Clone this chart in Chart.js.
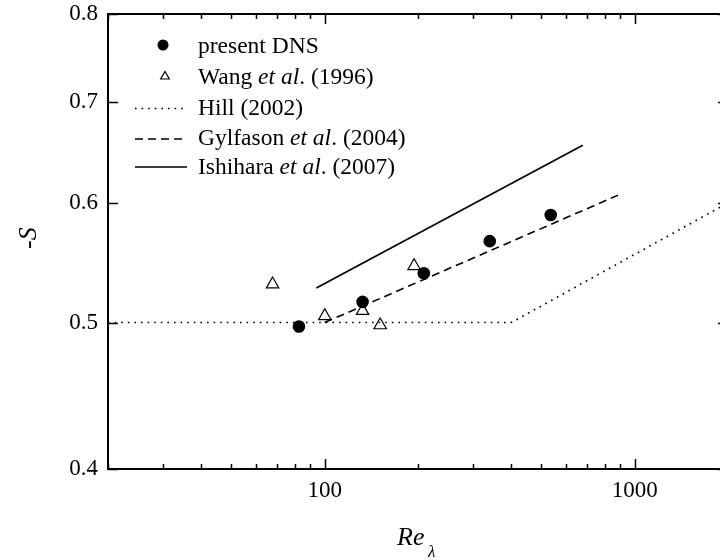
<!DOCTYPE html>
<html>
<head>
<meta charset="utf-8">
<script src="https://cdn.jsdelivr.net/npm/chart.js@4.4.1/dist/chart.umd.min.js"></script>
<style>
  html, body { margin: 0; padding: 0; background: #fff; overflow: hidden; }
  #wrap { width: 740px; height: 560px; }
</style>
</head>
<body>
<div id="wrap"><canvas id="skewChart" width="740" height="560"></canvas></div>
<script>
// present DNS
const dnsRe = [82.6, 132.5, 208.8, 340.8, 536];
const dnsS = [0.497, 0.516, 0.539, 0.566, 0.589];
// Wang et al. (1996)
const wangRe = [67.9, 100.1, 132.5, 151, 194.3];
const wangS = [0.530, 0.505, 0.509, 0.498, 0.545];
// Hill (2002)
const hillRe = [20, 400, 2000];
const hillS = [0.5, 0.5, 0.6];
// Gylfason et al. (2004)
const gylRe = [100, 900];
const gylS = [0.5, 0.608];
// Ishihara et al. (2007)
const ishRe = [94, 680];
const ishS = [0.527, 0.655];

const xTicks = [20, 30, 40, 50, 60, 70, 80, 90, 100, 200, 300, 400, 500, 600, 700, 800, 900, 1000, 2000];
const xLabels = { 100: '100', 1000: '1000' };
const yTicks = [0.4, 0.5, 0.6, 0.7, 0.8];
const yLabels = ['0.4', '0.5', '0.6', '0.7', '0.8'];

// legend text: pieces of [text, italic]
const legendText = [
    [['present DNS', false]],
    [['Wang ', false], ['et al', true], ['. (1996)', false]],
    [['Hill (2002)', false]],
    [['Gylfason ', false], ['et al', true], ['. (2004)', false]],
    [['Ishihara ', false], ['et al', true], ['. (2007)', false]]
];

const serif = "'Liberation Serif', 'DejaVu Serif', serif";

function pts(xs, ys) {
    return xs.map((x, i) => ({ x: x, y: ys[i] }));
}

const datasets = [
    {
        label: 'present DNS', type: 'scatter', data: pts(dnsRe, dnsS),
        pointStyle: 'circle', pointRadius: 6.3, backgroundColor: '#000', borderColor: '#000', borderWidth: 0
    },
    {
        label: 'Wang et al. (1996)', type: 'scatter', data: pts(wangRe, wangS),
        pointStyle: 'triangle', pointRadius: 7.2, backgroundColor: 'rgba(0,0,0,0)', borderColor: '#000', borderWidth: 1.2
    },
    {
        label: 'Hill (2002)', type: 'line', data: pts(hillRe, hillS),
        borderColor: '#000', borderWidth: 1.7, borderDash: [1.6, 5], pointRadius: 0, tension: 0, fill: false
    },
    {
        label: 'Gylfason et al. (2004)', type: 'line', data: pts(gylRe, gylS),
        borderColor: '#000', borderWidth: 1.6, borderDash: [8, 5], pointRadius: 0, tension: 0, fill: false
    },
    {
        label: 'Ishihara et al. (2007)', type: 'line', data: pts(ishRe, ishS),
        borderColor: '#000', borderWidth: 1.7, pointRadius: 0, tension: 0, fill: false
    }
];

function drawPieces(ctx, pieces, x, y, size) {
    pieces.forEach(([t, it]) => {
        ctx.font = (it ? 'italic ' : '') + size + 'px ' + serif;
        ctx.fillText(t, x, y);
        x += ctx.measureText(t).width;
    });
}

const framePlugin = {
    id: 'framePlugin',
    afterDatasetsDraw(chart) {
        const ctx = chart.ctx;
        const xs = chart.scales.x, ys = chart.scales.y;
        const a = chart.chartArea;
        ctx.save();
        ctx.strokeStyle = '#000';
        ctx.fillStyle = '#000';

        // frame
        ctx.lineWidth = 2;
        ctx.strokeRect(a.left, a.top, a.right - a.left, a.bottom - a.top);

        // x ticks (inward, top and bottom)
        ctx.lineWidth = 1.5;
        xTicks.forEach(v => {
            const px = Math.round(xs.getPixelForValue(v)) + 0.5;
            const len = xLabels[v] ? 10 : 5;
            ctx.beginPath();
            ctx.moveTo(px, a.bottom); ctx.lineTo(px, a.bottom - len);
            ctx.moveTo(px, a.top); ctx.lineTo(px, a.top + len);
            ctx.stroke();
        });
        // y ticks (inward, left and right)
        yTicks.forEach(v => {
            const py = Math.round(ys.getPixelForValue(v)) + 0.5;
            ctx.beginPath();
            ctx.moveTo(a.left, py); ctx.lineTo(a.left + 10, py);
            ctx.moveTo(a.right, py); ctx.lineTo(a.right - 10, py);
            ctx.stroke();
        });

        // tick labels
        ctx.font = '23px ' + serif;
        ctx.textAlign = 'center';
        ctx.textBaseline = 'middle';
        xTicks.forEach(v => {
            if (xLabels[v]) ctx.fillText(xLabels[v], xs.getPixelForValue(v), a.bottom + 22);
        });
        ctx.textAlign = 'right';
        yTicks.forEach((v, i) => {
            ctx.fillText(yLabels[i], a.left - 10, ys.getPixelForValue(v));
        });

        // axis titles
        ctx.textAlign = 'left';
        ctx.textBaseline = 'alphabetic';
        ctx.font = 'italic 26px ' + serif;
        ctx.fillText('Re', 397, 545);
        ctx.font = 'italic 17px ' + serif;
        ctx.fillText('λ', 428, 557);

        ctx.save();
        ctx.translate(36, 249);
        ctx.rotate(-Math.PI / 2);
        ctx.font = '26px ' + serif;
        ctx.fillText('-', 0, 0);
        const dw = ctx.measureText('-').width;
        ctx.font = 'italic 26px ' + serif;
        ctx.fillText('S', dw, 0);
        ctx.restore();

        // legend
        const baselines = [52.5, 83.5, 114.5, 145, 173.5];
        const symY = [45, 76.5, 108, 138.5, 166.5];
        baselines.forEach((b, i) => {
            const ds = chart.data.datasets[i];
            ctx.save();
            ctx.lineWidth = ds.borderWidth;
            if (ds.type === 'scatter') {
                const isCircle = ds.pointStyle === 'circle';
                ctx.fillStyle = isCircle ? '#000' : 'rgba(0,0,0,0)';
                Chart.helpers.drawPoint(ctx, {
                    pointStyle: ds.pointStyle, radius: isCircle ? 5.5 : 5, rotation: 0, borderWidth: isCircle ? 0 : 1.1
                }, isCircle ? 163 : 165, symY[i]);
            } else {
                ctx.setLineDash(ds.borderDash || []);
                ctx.beginPath();
                ctx.moveTo(135, symY[i] + 0.5);
                ctx.lineTo(187, symY[i] + 0.5);
                ctx.stroke();
            }
            ctx.restore();
            drawPieces(ctx, legendText[i], 198, b, 23.5);
        });
        ctx.restore();
    }
};

new Chart(document.getElementById('skewChart'), {
    type: 'scatter',
    data: { datasets: datasets },
    options: {
        responsive: false,
        animation: false,
        layout: { padding: { left: 108, right: 12, top: 14, bottom: 91 } },
        plugins: { legend: { display: false }, tooltip: { enabled: false } },
        scales: {
            x: { type: 'logarithmic', min: 20, max: 2000, display: false },
            y: { type: 'logarithmic', min: 0.4, max: 0.8, display: false }
        }
    },
    plugins: [framePlugin]
});
</script>
</body>
</html>
